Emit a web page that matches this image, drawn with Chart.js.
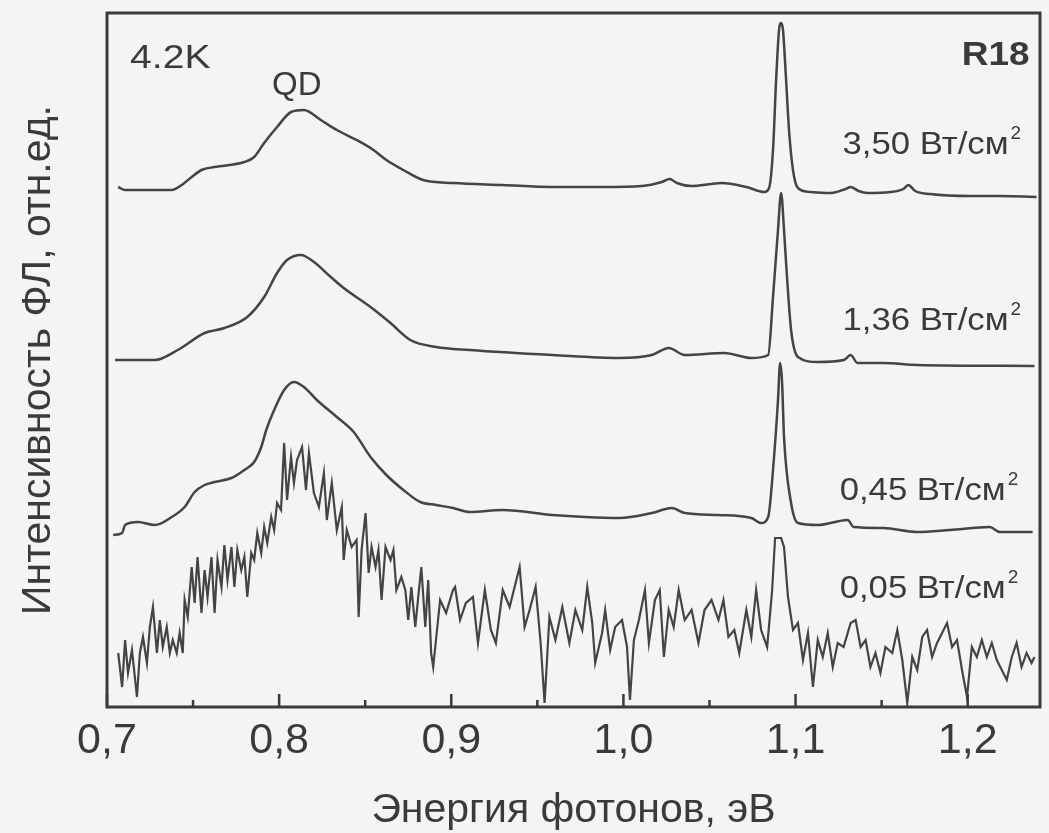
<!DOCTYPE html>
<html>
<head>
<meta charset="utf-8">
<script src="https://cdn.jsdelivr.net/npm/chart.js@4.4.1/dist/chart.umd.min.js"></script>
<style>
html,body{margin:0;padding:0;background:#f4f4f2;}
#wrap{width:1049px;height:833px;position:relative;}
canvas{display:block;}
</style>
</head>
<body>
<div id="wrap"><canvas id="c" width="1049" height="833"></canvas></div>
<script>
const FONT = '"Liberation Sans", Arial, Helvetica, sans-serif';
const INK = '#3a3a3a';
const LINE = '#444444';

// Photon energy (eV), PL intensity (arb. units, curves stacked with offsets)
const spec350 = [[0.7065,52.0],[0.7105,51.7],[0.7376,51.7],[0.7434,52.2],[0.7492,53.0],[0.7549,53.7],[0.7625,54.0],[0.7798,54.5],[0.7855,55.0],[0.7913,56.4],[0.7988,58.0],[0.8069,59.5],[0.8144,59.7],[0.8242,58.7],[0.8335,57.7],[0.8450,56.7],[0.8548,55.7],[0.8623,54.7],[0.8722,53.7],[0.8837,52.7],[0.9010,52.4],[0.9299,52.2],[0.9588,52.0],[0.9876,52.0],[1.0107,52.1],[1.0223,52.5],[1.0269,52.8],[1.0310,52.4],[1.0396,52.1],[1.0512,52.3],[1.0569,52.4],[1.0714,52.0],[1.0818,51.5],[1.0846,51.9],[1.0869,55.7],[1.0887,62.7],[1.0904,67.7],[1.0916,68.4],[1.0927,67.7],[1.0945,62.7],[1.0962,57.7],[1.0985,53.7],[1.1014,51.9],[1.1089,51.5],[1.1205,51.4],[1.1291,51.8],[1.1320,52.0],[1.1366,51.6],[1.1418,51.4],[1.1551,51.5],[1.1626,51.8],[1.1655,52.2],[1.1695,51.6],[1.1782,51.3],[1.2013,51.1],[1.2186,51.1],[1.2400,51.0]];

const spec136 = [[0.7047,34.7],[0.7278,34.7],[0.7411,35.7],[0.7567,37.4],[0.7682,37.9],[0.7815,39.0],[0.7913,41.0],[0.7988,43.4],[0.8046,44.7],[0.8127,45.2],[0.8202,44.5],[0.8300,43.0],[0.8375,41.9],[0.8531,40.0],[0.8647,38.4],[0.8762,36.7],[0.8912,36.0],[0.9108,35.7],[0.9588,35.2],[0.9975,34.9],[1.0165,35.2],[1.0263,35.9],[1.0356,35.2],[1.0587,35.4],[1.0743,34.9],[1.0841,35.2],[1.0869,41.0],[1.0898,47.7],[1.0916,51.4],[1.0933,47.7],[1.0945,44.4],[1.0974,37.7],[1.1014,35.0],[1.1129,34.5],[1.1280,34.7],[1.1320,35.2],[1.1360,34.4],[1.1510,34.4],[1.1707,34.2],[1.2388,34.1]];

const spec045 = [[0.7036,17.2],[0.7088,17.4],[0.7105,18.2],[0.7180,18.5],[0.7278,18.2],[0.7376,19.0],[0.7451,20.0],[0.7509,21.5],[0.7567,22.2],[0.7625,22.5],[0.7723,22.9],[0.7798,23.7],[0.7855,24.5],[0.7896,26.0],[0.7925,27.7],[0.7971,29.7],[0.8029,31.7],[0.8086,32.5],[0.8144,32.0],[0.8219,30.7],[0.8335,29.0],[0.8433,27.5],[0.8531,25.0],[0.8623,23.2],[0.8722,21.7],[0.8820,20.5],[0.8912,20.2],[0.9010,19.9],[0.9108,19.5],[0.9299,19.7],[0.9588,19.2],[0.9778,19.0],[0.9975,18.9],[1.0165,19.4],[1.0281,19.9],[1.0356,19.4],[1.0552,19.2],[1.0743,18.9],[1.0800,18.4],[1.0841,19.0],[1.0869,23.7],[1.0898,30.7],[1.0910,34.4],[1.0921,32.7],[1.0933,27.0],[1.0974,20.4],[1.1014,18.4],[1.1129,18.2],[1.1303,18.7],[1.1337,18.0],[1.1510,17.9],[1.1707,17.5],[1.1897,17.7],[1.2128,18.0],[1.2186,17.5],[1.2377,17.5]];

const spec005 = [[0.7065,5.4],[0.7088,2.0],[0.7105,6.7],[0.7122,3.4],[0.7145,5.7],[0.7174,1.0],[0.7191,5.4],[0.7209,7.0],[0.7232,4.4],[0.7249,8.0],[0.7267,10.0],[0.7290,5.4],[0.7307,8.7],[0.7324,6.0],[0.7347,8.0],[0.7365,5.4],[0.7382,6.7],[0.7405,5.4],[0.7422,7.4],[0.7440,5.4],[0.7451,10.7],[0.7469,9.0],[0.7492,14.0],[0.7509,10.4],[0.7526,15.0],[0.7549,9.4],[0.7567,13.7],[0.7584,11.0],[0.7607,15.0],[0.7625,9.4],[0.7642,14.7],[0.7665,12.0],[0.7682,16.2],[0.7700,12.7],[0.7723,16.0],[0.7740,12.0],[0.7757,15.7],[0.7780,13.7],[0.7798,15.0],[0.7815,11.0],[0.7838,15.4],[0.7855,14.7],[0.7873,17.4],[0.7896,15.4],[0.7913,18.0],[0.7931,16.4],[0.7954,19.0],[0.7971,17.7],[0.7988,20.4],[0.8011,19.7],[0.8029,26.4],[0.8046,20.7],[0.8069,25.0],[0.8086,22.4],[0.8104,24.7],[0.8133,26.0],[0.8156,21.7],[0.8173,25.4],[0.8202,21.4],[0.8231,20.0],[0.8260,23.4],[0.8277,18.7],[0.8306,22.4],[0.8335,17.7],[0.8364,20.0],[0.8375,14.7],[0.8393,17.7],[0.8421,16.0],[0.8450,16.7],[0.8462,9.0],[0.8479,15.7],[0.8502,19.4],[0.8520,13.4],[0.8537,16.0],[0.8560,14.0],[0.8577,15.7],[0.8595,10.7],[0.8618,16.0],[0.8647,14.7],[0.8664,15.7],[0.8681,11.7],[0.8710,13.0],[0.8733,11.7],[0.8750,8.7],[0.8768,12.0],[0.8791,8.0],[0.8808,11.0],[0.8826,14.0],[0.8849,8.0],[0.8866,12.7],[0.8883,5.4],[0.8895,4.0],[0.8935,10.7],[0.8970,9.4],[0.9010,11.7],[0.9022,12.0],[0.9051,8.7],[0.9085,10.4],[0.9126,11.0],[0.9155,6.4],[0.9195,11.7],[0.9230,7.7],[0.9259,6.4],[0.9299,11.7],[0.9339,10.0],[0.9397,14.0],[0.9426,8.0],[0.9455,9.7],[0.9490,12.0],[0.9519,6.4],[0.9542,0.4],[0.9570,9.0],[0.9605,6.7],[0.9645,10.0],[0.9686,6.4],[0.9721,9.7],[0.9761,7.7],[0.9790,12.0],[0.9819,8.4],[0.9836,4.4],[0.9876,7.4],[0.9894,9.7],[0.9923,5.7],[0.9952,8.0],[0.9992,8.7],[1.0021,6.0],[1.0038,0.7],[1.0061,6.7],[1.0090,8.7],[1.0125,11.7],[1.0148,6.4],[1.0183,10.7],[1.0211,11.7],[1.0235,5.0],[1.0263,9.7],[1.0292,8.0],[1.0321,11.7],[1.0356,8.7],[1.0396,9.7],[1.0436,6.4],[1.0471,9.7],[1.0512,10.7],[1.0552,8.7],[1.0581,10.7],[1.0610,7.0],[1.0644,7.7],[1.0673,5.4],[1.0714,9.7],[1.0743,7.0],[1.0771,11.7],[1.0800,7.7],[1.0835,6.0],[1.0864,11.7],[1.0881,16.9],[1.0916,16.9],[1.0933,16.0],[1.0956,11.0],[1.0985,7.7],[1.1014,8.4],[1.1043,4.7],[1.1072,7.4],[1.1101,2.0],[1.1129,6.7],[1.1158,5.0],[1.1187,7.4],[1.1216,4.0],[1.1245,6.4],[1.1279,6.0],[1.1320,8.4],[1.1349,8.7],[1.1378,6.0],[1.1407,6.7],[1.1435,4.0],[1.1464,5.4],[1.1493,3.4],[1.1522,6.0],[1.1562,5.4],[1.1591,7.7],[1.1620,4.7],[1.1649,0.4],[1.1678,5.0],[1.1707,3.7],[1.1736,7.0],[1.1764,7.7],[1.1793,5.0],[1.1822,6.4],[1.1851,7.4],[1.1880,8.4],[1.1909,6.0],[1.1938,6.7],[1.1967,3.7],[1.1996,1.0],[1.2024,6.0],[1.2053,5.0],[1.2082,6.7],[1.2111,5.0],[1.2140,6.4],[1.2169,4.7],[1.2198,3.7],[1.2227,2.7],[1.2256,5.0],[1.2284,6.4],[1.2313,4.0],[1.2342,5.4],[1.2371,4.4],[1.2388,5.0]];

const majorTicks = [0.7, 0.8, 0.9, 1.0, 1.1, 1.2];
const majorLabels = ['0,7', '0,8', '0,9', '1,0', '1,1', '1,2'];
const minorTicks = [0.75, 0.85, 0.95, 1.05, 1.15];

const powerTexts = ['3,50 Вт/см', '1,36 Вт/см', '0,45 Вт/см', '0,05 Вт/см'];
const powerPos = [[1.1273, 55.3], [1.1273, 37.7], [1.1256, 20.7], [1.1256, 10.9]];
const cornerNotes = [
  {text: '4.2K', pos: [0.7134, 63.9], align: 'left', weight: 'normal', size: 34, sx: 1.15},
  {text: 'QD', pos: [0.8103, 61.2], align: 'center', weight: 'normal', size: 33, sx: 1.0},
  {text: 'R18', pos: [1.2359, 64.2], align: 'right', weight: 'bold', size: 33, sx: 1.12}
];

const toXY = s => s.map(p => ({x: p[0], y: p[1]}));

const bgPlugin = {
  id: 'bg',
  beforeDraw(chart) {
    const {ctx, width, height} = chart;
    ctx.save();
    ctx.fillStyle = '#f4f4f2';
    ctx.fillRect(0, 0, width, height);
    ctx.restore();
  }
};

function drawText(ctx, text, px, py, font, align, sx) {
  ctx.save();
  ctx.translate(px, py);
  ctx.scale(sx, 1);
  ctx.font = font;
  ctx.textAlign = align;
  ctx.textBaseline = 'alphabetic';
  ctx.fillStyle = INK;
  ctx.fillText(text, 0, 0);
  const w = ctx.measureText(text).width * sx;
  ctx.restore();
  return w;
}

const framePlugin = {
  id: 'frame',
  afterDatasetsDraw(chart) {
    const {ctx, chartArea: a, scales: {x, y}} = chart;
    ctx.save();
    ctx.strokeStyle = INK;
    ctx.lineWidth = 3;
    ctx.strokeRect(a.left, a.top, a.right - a.left, a.bottom - a.top);
    ctx.lineWidth = 2.5;
    ctx.beginPath();
    majorTicks.forEach(v => {
      const px = x.getPixelForValue(v);
      ctx.moveTo(px, a.bottom); ctx.lineTo(px, a.bottom - 13);
    });
    minorTicks.forEach(v => {
      const px = x.getPixelForValue(v);
      ctx.moveTo(px, a.bottom); ctx.lineTo(px, a.bottom - 7);
    });
    ctx.stroke();
    ctx.restore();

    cornerNotes.forEach(n => {
      drawText(ctx, n.text, x.getPixelForValue(n.pos[0]), y.getPixelForValue(n.pos[1]),
        `${n.weight} ${n.size}px ${FONT}`, n.align, n.sx);
    });
    powerTexts.forEach((t, i) => {
      const px = x.getPixelForValue(powerPos[i][0]);
      const py = y.getPixelForValue(powerPos[i][1]);
      const w = drawText(ctx, t, px, py, `31px ${FONT}`, 'left', 1.12);
      drawText(ctx, '2', px + w + 2, py - 15, `19px ${FONT}`, 'left', 1.0);
    });
  }
};

const smooth = (s) => ({
  data: toXY(s), borderColor: LINE, borderWidth: 2.5, pointRadius: 0,
  cubicInterpolationMode: 'monotone', fill: false
});

new Chart(document.getElementById('c'), {
  type: 'line',
  data: {
    datasets: [
      smooth(spec350),
      smooth(spec136),
      smooth(spec045),
      {data: toXY(spec005), borderColor: LINE, borderWidth: 2.2, pointRadius: 0, tension: 0, fill: false}
    ]
  },
  options: {
    responsive: false,
    devicePixelRatio: 1,
    animation: false,
    events: [],
    layout: {padding: {top: 13, right: 9, left: 0, bottom: 0}},
    plugins: {legend: {display: false}, tooltip: {enabled: false}},
    scales: {
      x: {
        type: 'linear', min: 0.7, max: 1.242,
        afterBuildTicks: s => { s.ticks = majorTicks.map(v => ({value: v})); },
        afterFit: s => { s.height = 126; },
        ticks: {
          callback: (v, i) => majorLabels[i],
          font: {family: FONT, size: 43}, color: INK, padding: 8,
          maxRotation: 0, autoSkip: false
        },
        grid: {display: false, drawTicks: false},
        border: {display: false},
        title: {
          display: true, text: 'Энергия фотонов, эВ', color: INK,
          font: {family: FONT, size: 41, lineHeight: 1.0}, padding: {top: 0, bottom: 2}
        }
      },
      y: {
        min: 0, max: 69.4,
        afterFit: s => { s.width = 107; },
        ticks: {display: false},
        grid: {display: false, drawTicks: false},
        border: {display: false},
        title: {
          display: true, text: 'Интенсивность ФЛ, отн.ед.', color: INK,
          font: {family: FONT, size: 41}, padding: {top: 14, bottom: 0}
        }
      }
    }
  },
  plugins: [bgPlugin, framePlugin]
});
</script>
</body>
</html>
